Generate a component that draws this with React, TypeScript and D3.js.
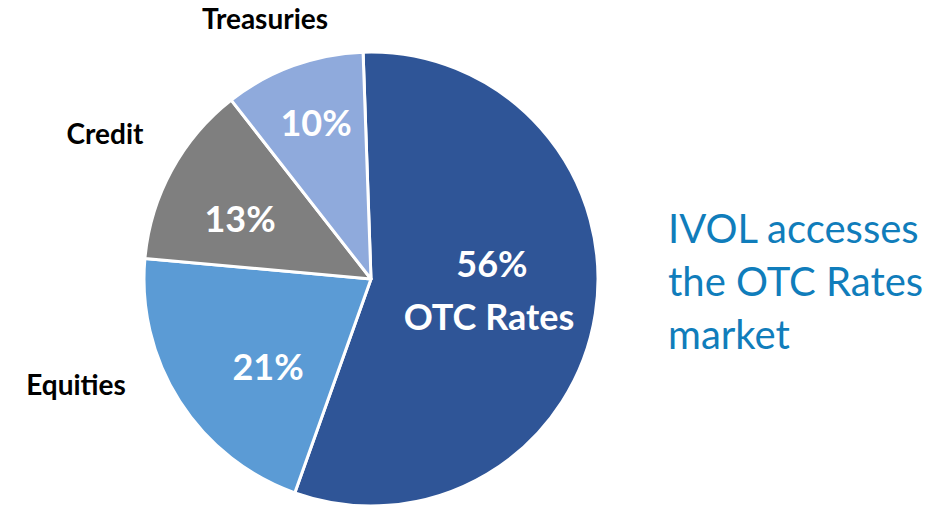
import React from "react";
import * as d3 from "d3";

const categories = ["OTC Rates", "Equities", "Credit", "Treasuries"];
const values = [56, 21, 13, 10];
const colors = ["#2F5597", "#5B9BD5", "#7F7F7F", "#8FAADC"];
const sideText = ["IVOL accesses", "the OTC Rates", "market"];

const W = 948;
const H = 507;
const cx = 371;
const cy = 279;
const R = 227;
const FONT = "Lato, 'Open Sans', sans-serif";

export default function App() {
  const start = (-2 * Math.PI) / 180;
  const pie = d3
    .pie<number>()
    .sort(null)
    .startAngle(start)
    .endAngle(start + 2 * Math.PI)(values);
  const arc = d3.arc<d3.PieArcDatum<number>>().innerRadius(0).outerRadius(R);

  const insideLabels = [
    { x: 492 - cx, y: 277 - cy, text: `${values[0]}%` },
    { x: 268 - cx, y: 380 - cy, text: `${values[1]}%` },
    { x: 240 - cx, y: 232 - cy, text: `${values[2]}%` },
    { x: 316 - cx, y: 136 - cy, text: `${values[3]}%` },
  ];
  const outsideLabels = [
    null,
    { x: 76 - cx, y: 395 - cy },
    { x: 105 - cx, y: 144 - cy },
    { x: 265 - cx, y: 29 - cy },
  ];

  return (
    <svg width={W} height={H} style={{ position: "absolute", left: 0, top: 0, background: "#fff" }}>
      <g transform={`translate(${cx},${cy})`}>
        {pie.map((d, i) => (
          <path
            key={categories[i]}
            d={arc(d) || ""}
            fill={colors[i]}
            stroke="#fff"
            strokeWidth={3}
            strokeLinejoin="round"
          />
        ))}
        {insideLabels.map((l, i) => (
          <text
            key={"in" + i}
            x={l.x}
            y={l.y}
            textAnchor="middle"
            fill="#fff"
            fontFamily={FONT}
            fontWeight={700}
            fontSize={36}
          >
            {l.text}
          </text>
        ))}
        <text
          x={489 - cx}
          y={330 - cy}
          textAnchor="middle"
          fill="#fff"
          fontFamily={FONT}
          fontWeight={700}
          fontSize={36}
        >
          {categories[0]}
        </text>
        {outsideLabels.map((l, i) =>
          l ? (
            <text
              key={"out" + i}
              x={l.x}
              y={l.y}
              textAnchor="middle"
              fill="#000"
              fontFamily={FONT}
              fontWeight={700}
              fontSize={28}
            >
              {categories[i]}
            </text>
          ) : null
        )}
      </g>
      {sideText.map((t, i) => (
        <text
          key={t}
          x={668}
          y={243 + i * 53}
          fill="#107DBB"
          fontFamily={FONT}
          fontSize={40}
        >
          {t}
        </text>
      ))}
    </svg>
  );
}
